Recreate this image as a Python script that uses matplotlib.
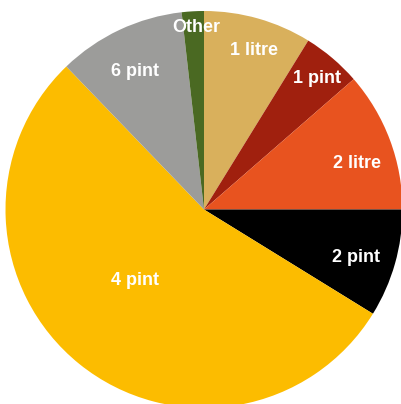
import numpy as np
import matplotlib
matplotlib.use('Agg')
import matplotlib.pyplot as plt

# Share of sales by pack size (percent), clockwise from 12 o'clock
sizes = ['1 litre', '1 pint', '2 litre', '2 pint', '4 pint', '6 pint', 'Other']
shares = [8.8, 4.8, 11.4, 8.8, 54.0, 10.4, 1.8]
colors = ['#D9B05C', '#A0200E', '#E8531F', '#000000', '#FCBC00', '#9C9C9A', '#4A6922']

# label placement: angular nudge (deg) from wedge middle and radius fraction
label_shift = [-1.3, 0.0, -2.9, -0.8, -6.6, 0.8, -0.8]
label_radius = [0.85, 0.88, 0.81, 0.80, 0.49, 0.79, 0.93]


def draw_pie():
    fig = plt.figure(figsize=(4.01, 4.04), dpi=100)
    ax = fig.add_axes([5.5 / 401, -4 / 404, 397 / 401, 397 / 404])

    wedges, _ = ax.pie(shares, colors=colors, startangle=90, counterclock=False,
                       radius=1, wedgeprops=dict(linewidth=0))
    ax.set_xlim(-1, 1)
    ax.set_ylim(-1, 1)
    ax.axis('off')

    for w, name, d, r in zip(wedges, sizes, label_shift, label_radius):
        mid = np.deg2rad((w.theta1 + w.theta2) / 2 + d)
        ax.annotate(name, (r * np.cos(mid), r * np.sin(mid)), xytext=(0, -1.8),
                    textcoords='offset points', ha='center', va='center',
                    color='white', fontsize=13, fontweight='bold', family='Liberation Sans')

    fig.savefig('out.png', dpi=100)


if __name__ == "__main__":
    draw_pie()
